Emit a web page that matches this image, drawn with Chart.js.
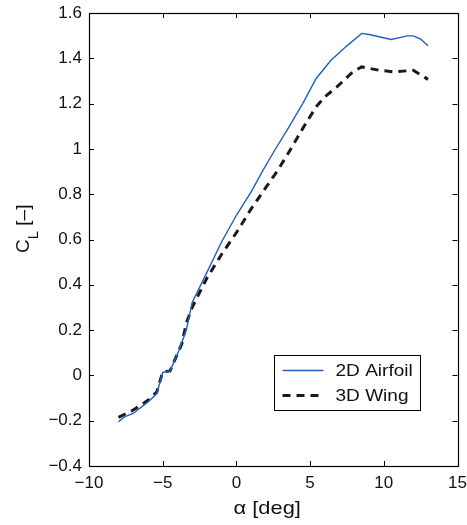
<!DOCTYPE html>
<html>
<head>
<meta charset="utf-8">
<script src="https://cdn.jsdelivr.net/npm/chart.js@4/dist/chart.umd.min.js"></script>
<style>
  html, body { margin: 0; padding: 0; background: #fff; }
  #wrap { width: 467px; height: 525px; }
</style>
</head>
<body>
<div id="wrap"><canvas id="clChart" width="467" height="525"></canvas></div>
<script>
// Lift coefficient vs angle of attack
const seriesLabels = ['2D Airfoil', '3D Wing'];

const alpha2D = [-8.0, -7.6, -7.0, -6.0, -5.4, -5.0, -4.5, -3.9, -3.4, -3.0, -2.0, -1.0, 0.0, 1.0, 1.8, 2.6, 3.5, 4.5, 5.4, 6.4, 7.5, 8.5, 9.0, 10.5, 11.6, 12.0, 12.5, 13.0];
const cl2D    = [-0.205, -0.183, -0.168, -0.117, -0.08, 0.013, 0.02, 0.11, 0.20, 0.322, 0.455, 0.59, 0.707, 0.81, 0.905, 0.994, 1.09, 1.20, 1.31, 1.39, 1.455, 1.51, 1.505, 1.483, 1.499, 1.499, 1.485, 1.455];

const alpha3D = [-8.0, -7.0, -6.0, -5.4, -5.0, -4.5, -3.7, -3.4, -3.0, -2.7, -2.0, -1.0, 0.0, 1.0, 2.0, 2.8, 3.6, 4.5, 5.4, 6.0, 6.8, 7.9, 8.5, 9.7, 10.7, 12.0, 13.0];
const cl3D    = [-0.185, -0.153, -0.11, -0.073, 0.015, 0.02, 0.14, 0.23, 0.30, 0.34, 0.43, 0.535, 0.63, 0.735, 0.83, 0.905, 0.99, 1.09, 1.185, 1.23, 1.273, 1.34, 1.362, 1.347, 1.34, 1.347, 1.307];

const xTicks = [-10, -5, 0, 5, 10, 15];
const yTicks = [-0.4, -0.2, 0, 0.2, 0.4, 0.6, 0.8, 1, 1.2, 1.4, 1.6];

const FONT = '"Liberation Sans", Arial, Helvetica, sans-serif';
const blue = '#1f5fc0';
const dark = '#1a1a1a';

function toPoints(xs, ys) {
    return xs.map((x, i) => ({ x: x, y: ys[i] }));
}

function fmt(v) {
    const s = String(Number(v.toFixed(1)));
    return s.replace('-', '\u2212');
}

// text a bit wider than the font, like the scanned figure
function wideText(ctx, txt, x, y, sx) {
    ctx.save();
    ctx.translate(x, y);
    ctx.scale(sx, 1);
    ctx.fillText(txt, 0, 0);
    ctx.restore();
}

// box, inward ticks, axis titles and legend (MATLAB look)
const matlabFrame = {
    id: 'matlabFrame',
    afterDatasetsDraw(chart) {
        const ctx = chart.ctx;
        const a = chart.chartArea;
        const xs = chart.scales.x;
        const ys = chart.scales.y;
        const tick = 5;

        ctx.save();
        ctx.strokeStyle = '#000';
        ctx.lineWidth = 1;
        ctx.beginPath();
        xTicks.forEach(v => {
            const px = Math.round(xs.getPixelForValue(v)) + 0.5;
            ctx.moveTo(px, a.bottom); ctx.lineTo(px, a.bottom - tick);
            ctx.moveTo(px, a.top); ctx.lineTo(px, a.top + tick);
        });
        yTicks.forEach(v => {
            const py = Math.round(ys.getPixelForValue(v)) + 0.5;
            ctx.moveTo(a.left, py); ctx.lineTo(a.left + tick, py);
            ctx.moveTo(a.right, py); ctx.lineTo(a.right - tick, py);
        });
        ctx.stroke();
        ctx.lineWidth = 1.2;
        ctx.strokeRect(Math.round(a.left) + 0.5, Math.round(a.top) + 0.5,
            Math.round(a.right - a.left), Math.round(a.bottom - a.top));

        // legend
        const lx = a.left + 185.5, ly = a.top + 342.5, lw = 146, lh = 55;
        ctx.fillStyle = '#fff';
        ctx.fillRect(lx, ly, lw, lh);
        ctx.lineWidth = 1;
        ctx.strokeRect(lx, ly, lw, lh);
        chart.data.datasets.forEach((ds, i) => {
            const y = ly + 15 + i * 25;
            ctx.beginPath();
            ctx.strokeStyle = ds.borderColor;
            ctx.lineWidth = ds.borderWidth;
            ctx.setLineDash(ds.borderDash || []);
            ctx.moveTo(lx + 8, y);
            ctx.lineTo(lx + 49, y);
            ctx.stroke();
            ctx.setLineDash([]);
            ctx.fillStyle = '#111';
            ctx.font = '17px ' + FONT;
            ctx.textBaseline = 'middle';
            ctx.textAlign = 'left';
            wideText(ctx, ds.label, lx + 61, y + 1, 1.12);
        });

        // x title
        ctx.fillStyle = '#111';
        ctx.textAlign = 'center';
        ctx.textBaseline = 'alphabetic';
        ctx.font = '19px ' + FONT;
        wideText(ctx, '\u03b1 [deg]', (a.left + a.right) / 2 - 6, 514, 1.15);

        // y title with subscript
        ctx.translate(29, 253);
        ctx.rotate(-Math.PI / 2);
        ctx.textAlign = 'left';
        ctx.font = '19px ' + FONT;
        ctx.fillText('C', 0, 0);
        let w = ctx.measureText('C').width;
        ctx.font = '15px ' + FONT;
        ctx.fillText('L', w, 9);
        w += ctx.measureText('L').width;
        ctx.font = '19px ' + FONT;
        ctx.fillText(' [\u2013]', w, 0);
        ctx.restore();
    }
};

const chart = new Chart(document.getElementById('clChart'), {
    type: 'scatter',
    data: {
        datasets: [{
            label: seriesLabels[0],
            data: toPoints(alpha2D, cl2D),
            showLine: true,
            borderColor: blue,
            borderWidth: 1.4,
            pointRadius: 0,
            tension: 0
        }, {
            label: seriesLabels[1],
            data: toPoints(alpha3D, cl3D),
            showLine: true,
            borderColor: dark,
            borderWidth: 3,
            borderDash: [8, 6],
            pointRadius: 0,
            tension: 0
        }]
    },
    options: {
        responsive: false,
        animation: false,
        layout: { padding: { top: 13, right: 9.5, left: 0, bottom: 0 } },
        plugins: {
            legend: { display: false },
            tooltip: { enabled: false }
        },
        scales: {
            x: {
                type: 'linear',
                min: -10,
                max: 15,
                afterFit: s => {
                    s.height = 59;
                    s.paddingLeft = 0;
                    s.paddingRight = 0;
                },
                afterBuildTicks: s => { s.ticks = xTicks.map(v => ({ value: v })); },
                grid: { display: false, drawTicks: false, tickLength: 0 },
                border: { display: false },
                ticks: {
                    padding: 7,
                    color: '#111',
                    font: { family: FONT, size: 17 },
                    callback: v => fmt(v)
                }
            },
            y: {
                type: 'linear',
                min: -0.4,
                max: 1.6,
                afterFit: s => {
                    s.width = 89;
                    s.paddingTop = 0;
                    s.paddingBottom = 0;
                },
                afterBuildTicks: s => { s.ticks = yTicks.map(v => ({ value: v })); },
                grid: { display: false, drawTicks: false, tickLength: 0 },
                border: { display: false },
                ticks: {
                    padding: 7,
                    color: '#111',
                    font: { family: FONT, size: 17 },
                    callback: v => fmt(v)
                }
            }
        }
    },
    plugins: [matlabFrame]
});
</script>
</body>
</html>
